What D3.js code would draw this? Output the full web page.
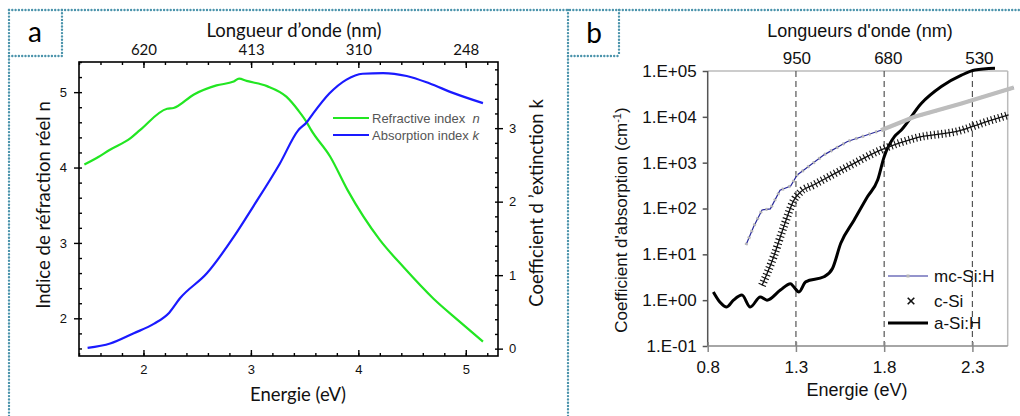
<!DOCTYPE html>
<meta charset="utf-8">
<style>
body { margin: 0; background: #fff; }
svg { display: block; }
.axis path, .axis line { stroke: #000; }
.a-tick text { font-family: "Liberation Sans", Arial, sans-serif; font-size: 13px; fill: #111; }
.b-tick text { font-family: "Liberation Sans", Arial, sans-serif; font-size: 17px; fill: #111; }
.title-a { font-family: Lato, "Open Sans", sans-serif; font-size: 18.5px; fill: #111; }
.title-b { font-family: "Liberation Sans", Arial, sans-serif; font-size: 17px; fill: #111; }
</style>
<body>
<script src="https://d3js.org/d3.v7.min.js"></script>
<script>
// ---- panel a : optical indices vs energy
var nEnergy = [1.45, 1.58, 1.68, 1.88, 1.97, 2.22, 2.28, 2.47, 2.68, 2.84, 2.89, 2.96, 3.15, 3.33, 3.44, 3.52, 3.56, 3.74, 3.90, 4.20, 4.42, 4.70, 4.94, 5.16];
var nValues = [4.04, 4.14, 4.23, 4.39, 4.50, 4.78, 4.79, 4.97, 5.09, 5.14, 5.18, 5.15, 5.08, 4.94, 4.76, 4.60, 4.50, 4.14, 3.70, 3.04, 2.68, 2.26, 1.96, 1.69];
var kEnergy = [1.48, 1.69, 1.91, 2.10, 2.24, 2.34, 2.59, 2.84, 3.02, 3.27, 3.44, 3.52, 3.58, 3.73, 3.89, 4.04, 4.23, 4.45, 4.66, 4.88, 5.16];
var kValues = [0.01, 0.07, 0.21, 0.34, 0.49, 0.685, 1.025, 1.52, 1.93, 2.52, 2.97, 3.08, 3.20, 3.47, 3.66, 3.74, 3.75, 3.71, 3.61, 3.48, 3.34];
var energyTicksA = [2, 3, 4, 5];
var wavelengthTicksA = [620, 413, 310, 248];
var nTicks = [2, 3, 4, 5];
var kTicks = [0, 1, 2, 3];

// ---- panel b : absorption coefficient (log)
var mcEnergy = [1.017, 1.06, 1.108, 1.155, 1.21, 1.27, 1.307, 1.345, 1.459, 1.592, 1.782, 1.972, 2.238, 2.535];
var mcValues = [16, 40, 93, 98, 250, 310, 540, 690, 1480, 2900, 5100, 10000, 19500, 43600];
var cEnergy = [1.108, 1.174, 1.231, 1.288, 1.326, 1.402, 1.592, 1.782, 1.972, 2.238, 2.352, 2.505];
var cValues = [2.1, 8.9, 40, 150, 230, 330, 810, 1900, 3400, 5100, 7200, 11000];
var aEnergy = [0.832, 0.87, 0.908, 0.946, 0.994, 1.041, 1.098, 1.136, 1.212, 1.269, 1.288, 1.317, 1.355, 1.459, 1.507, 1.554, 1.63, 1.706, 1.763, 1.80, 1.858, 1.896, 2.01, 2.124, 2.238, 2.314, 2.428];
var aValues = [1.51, 0.9, 0.71, 1.0, 1.29, 0.71, 1.17, 1.0, 1.66, 2.29, 1.95, 1.51, 2.51, 3.24, 4.9, 17.4, 56, 182, 417, 1350, 3700, 5100, 19500, 45700, 81000, 105000, 115000];
var energyTicksB = [0.8, 1.3, 1.8, 2.3];
var wavelengthTicksB = [950, 680, 530];
var alphaTicks = [0.1, 1, 10, 100, 1000, 10000, 100000];
var alphaTickLabels = ["1.E-01", "1.E+00", "1.E+01", "1.E+02", "1.E+03", "1.E+04", "1.E+05"];

var width = 1020, height = 416;
var svg = d3.select("body").append("svg")
    .attr("width", width)
    .attr("height", height);

// dotted frames
var frameColor = "#4a93ab";
function dotted(x1, y1, x2, y2) {
  svg.append("line")
      .attr("x1", x1).attr("y1", y1).attr("x2", x2).attr("y2", y2)
      .attr("stroke", frameColor)
      .attr("stroke-width", 2.4)
      .attr("stroke-linecap", "round")
      .attr("stroke-dasharray", "0,3.3");
}
dotted(9, 10, 9, 416);
dotted(9, 10, 1020, 10);
dotted(62, 10, 62, 56);
dotted(9, 56, 62, 56);
dotted(568, 10, 568, 416);
dotted(619, 10, 619, 56);
dotted(568, 56, 619, 56);

svg.append("text").attr("x", 35).attr("y", 42).attr("text-anchor", "middle")
    .style("font-family", "Lato, sans-serif").style("font-size", "28px").text("a");
svg.append("text").attr("x", 594).attr("y", 43).attr("text-anchor", "middle")
    .style("font-family", "Lato, sans-serif").style("font-size", "28px").text("b");

// ===================== panel a =====================
var ax0 = 79, ax1 = 498, ay0 = 62, ay1 = 356;

var xA = d3.scaleLinear().domain([1.4, 5.3]).range([ax0, ax1]);
var nA = d3.scaleLinear().domain([1.5, 5.4]).range([ay1, ay0]);
var kA = d3.scaleLinear().domain([-0.1, 3.9]).range([ay1, ay0]);

var gA = svg.append("g");

function minorTicks(scale, step) {
  var d = scale.domain(), out = [];
  for (var v = Math.ceil(d[0] / step) * step; v <= d[1] + 1e-9; v += step) out.push(+v.toFixed(3));
  return out;
}

// minor ticks (inward)
gA.append("g").attr("class", "axis").attr("transform", "translate(0," + ay1 + ")")
    .call(d3.axisBottom(xA).tickValues(minorTicks(xA, 0.2)).tickSize(-3).tickFormat(""));
gA.append("g").attr("class", "axis").attr("transform", "translate(0," + ay0 + ")")
    .call(d3.axisTop(xA).tickValues(minorTicks(xA, 0.2)).tickSize(-3).tickFormat(""));
gA.append("g").attr("class", "axis").attr("transform", "translate(" + ax0 + ",0)")
    .call(d3.axisLeft(nA).tickValues(minorTicks(nA, 0.2)).tickSize(-3).tickFormat(""));
gA.append("g").attr("class", "axis").attr("transform", "translate(" + ax1 + ",0)")
    .call(d3.axisRight(kA).tickValues(minorTicks(kA, 0.2)).tickSize(-3).tickFormat(""));

// major ticks
gA.append("g").attr("class", "axis a-tick").attr("transform", "translate(0," + ay1 + ")")
    .call(d3.axisBottom(xA).tickValues(energyTicksA).tickSize(-6).tickPadding(9).tickFormat(d3.format("d")));
var topA = gA.append("g").attr("class", "axis").attr("transform", "translate(0," + ay0 + ")")
    .call(d3.axisTop(xA).tickValues(wavelengthTicksA.map(function(l) { return 1240 / l; }))
      .tickSize(-6).tickPadding(7)
      .tickFormat(function(d, i) { return wavelengthTicksA[i]; }));
topA.selectAll("text").style("font-family", "Lato, sans-serif").style("font-size", "15px").style("fill", "#111");
gA.append("g").attr("class", "axis a-tick").attr("transform", "translate(" + ax0 + ",0)")
    .call(d3.axisLeft(nA).tickValues(nTicks).tickSize(5).tickPadding(7).tickFormat(d3.format("d")));
gA.append("g").attr("class", "axis a-tick").attr("transform", "translate(" + ax1 + ",0)")
    .call(d3.axisRight(kA).tickValues(kTicks).tickSize(5).tickPadding(6).tickFormat(d3.format("d")));
gA.selectAll(".axis line").attr("stroke-width", 1.4);
gA.selectAll(".axis .domain").attr("d", null);
gA.append("rect").attr("x", ax0).attr("y", ay0).attr("width", ax1 - ax0).attr("height", ay1 - ay0)
    .attr("fill", "none").attr("stroke", "#000").attr("stroke-width", 1.6);

var lineN = d3.line().curve(d3.curveMonotoneX)
    .x(function(d, i) { return xA(nEnergy[i]); })
    .y(function(d) { return nA(d); });
var lineK = d3.line().curve(d3.curveMonotoneX)
    .x(function(d, i) { return xA(kEnergy[i]); })
    .y(function(d) { return kA(d); });

gA.append("path").attr("d", lineN(nValues)).attr("fill", "none").attr("stroke", "#22e622").attr("stroke-width", 2.2);
gA.append("path").attr("d", lineK(kValues)).attr("fill", "none").attr("stroke", "#1a1aff").attr("stroke-width", 2.2);

// legend a
var legA = [
  {label: "Refractive index\u00a0\u00a0", sym: "n", color: "#22e622", y: 118},
  {label: "Absorption index ", sym: "k", color: "#1a1aff", y: 135}
];
legA.forEach(function(d) {
  gA.append("line").attr("x1", 333).attr("x2", 369).attr("y1", d.y).attr("y2", d.y)
      .attr("stroke", d.color).attr("stroke-width", 2.2);
  var t = gA.append("text").attr("x", 372).attr("y", d.y + 4.5)
      .style("font-family", "Liberation Sans, Arial, sans-serif").style("font-size", "13px").style("fill", "#555");
  t.append("tspan").text(d.label);
  t.append("tspan").style("font-style", "italic").text(d.sym);
});

svg.append("text").attr("class", "title-a").attr("x", 294).attr("y", 37).attr("text-anchor", "middle").text("Longueur d\u2019onde (nm)");
svg.append("text").attr("class", "title-a").attr("x", 298).attr("y", 401).attr("text-anchor", "middle").text("Energie (eV)");
svg.append("text").attr("class", "title-a").attr("transform", "translate(50,205) rotate(-90)")
    .attr("text-anchor", "middle").text("Indice de r\u00e9fraction r\u00e9el n");
svg.append("text").attr("class", "title-a").attr("transform", "translate(543,203) rotate(-90)")
    .attr("text-anchor", "middle").text("Coefficient d \u2019extinction k");

// ===================== panel b =====================
var bx0 = 707.7, bx1 = 1007.7, by0 = 71, by1 = 346;
var xB = d3.scaleLinear().domain([0.8, 2.5]).range([bx0, bx1]);
var yB = d3.scaleLog().domain([0.1, 100000]).range([by1, by0]);

var gB = svg.append("g");

gB.append("line").attr("x1", bx0).attr("x2", bx1).attr("y1", by0).attr("y2", by0).attr("stroke", "#bbb").attr("stroke-width", 1.5);
gB.append("line").attr("x1", bx1).attr("x2", bx1).attr("y1", by0).attr("y2", by1).attr("stroke", "#bbb").attr("stroke-width", 1.5);

// dashed reference lines
gB.selectAll(".ref").data(energyTicksB.slice(1)).enter().append("line")
    .attr("x1", function(d) { return xB(d); }).attr("x2", function(d) { return xB(d); })
    .attr("y1", by0).attr("y2", by1)
    .attr("stroke", "#555").attr("stroke-width", 1.2).attr("stroke-dasharray", "6,4");

var leftB = gB.append("g").attr("class", "b-tick").attr("transform", "translate(" + bx0 + ",0)")
    .call(d3.axisLeft(yB).tickValues(alphaTicks).tickSize(5).tickPadding(6)
      .tickFormat(function(d, i) { return alphaTickLabels[i]; }));
var bottomB = gB.append("g").attr("class", "b-tick").attr("transform", "translate(0," + by1 + ")")
    .call(d3.axisBottom(xB).tickValues(energyTicksB).tickSize(6).tickPadding(9)
      .tickFormat(d3.format(".1f")));
leftB.selectAll("path, line").attr("stroke", "#555").attr("stroke-width", 1.5);
bottomB.selectAll("path, line").attr("stroke", "#888").attr("stroke-width", 1.5);
bottomB.selectAll(".tick line").attr("y1", -4);
leftB.select(".domain").attr("d", "M0," + by1 + "V" + by0);
bottomB.select(".domain").attr("d", "M" + bx0 + ",0H" + bx1);

// top wavelength labels
gB.selectAll(".wl").data(wavelengthTicksB).enter().append("text")
    .attr("class", "title-b")
    .attr("x", function(d) { return xB(1240 / d); })
    .attr("y", 64).attr("text-anchor", "middle")
    .text(function(d) { return d; });

var lineB = function(xs) {
  return d3.line()
      .x(function(d, i) { return xB(xs[i]); })
      .y(function(d) { return yB(d); });
};

// a-Si:H
gB.append("path").attr("d", lineB(aEnergy).curve(d3.curveMonotoneX)(aValues))
    .attr("fill", "none").attr("stroke", "#000").attr("stroke-width", 3).attr("stroke-linejoin", "round");

// mc-Si:H
var mcPath = lineB(mcEnergy)(mcValues);
gB.append("path").attr("d", mcPath).attr("fill", "none").attr("stroke", "#2a2a9a").attr("stroke-width", 1.2);
gB.append("path").attr("d", mcPath).attr("fill", "none").attr("stroke", "#b8b8b8").attr("stroke-width", 3.2)
    .attr("stroke-dasharray", "2,5");
var mcHigh = mcEnergy.map(function(e, i) { return [e, mcValues[i]]; }).filter(function(p) { return p[0] >= 1.7; });
gB.append("path")
    .attr("d", d3.line().x(function(p) { return xB(p[0]); }).y(function(p) { return yB(p[1]); })(mcHigh))
    .attr("fill", "none").attr("stroke", "#bdbdbd").attr("stroke-width", 4.2);

// c-Si (dense cross markers rendered as a hatched line)
var cPath = lineB(cEnergy).curve(d3.curveMonotoneX)(cValues);
gB.append("path").attr("d", cPath).attr("fill", "none").attr("stroke", "#111").attr("stroke-width", 8)
    .attr("stroke-dasharray", "1.1,2.6");
gB.append("path").attr("d", cPath).attr("fill", "none").attr("stroke", "#111").attr("stroke-width", 1.3);

// legend b
var legB = gB.append("g");
legB.append("line").attr("x1", 888).attr("x2", 928).attr("y1", 276).attr("y2", 276).attr("stroke", "#2a2a9a").attr("stroke-width", 1.2);
legB.append("rect").attr("x", 906.5).attr("y", 274.5).attr("width", 3).attr("height", 3).attr("fill", "#b8b8b8");
legB.append("path").attr("d", d3.symbol(d3.symbolX, 30)()).attr("transform", "translate(911,301)")
    .attr("stroke", "#111").attr("stroke-width", 1.6).attr("fill", "none");
legB.append("line").attr("x1", 888).attr("x2", 928).attr("y1", 323).attr("y2", 323).attr("stroke", "#000").attr("stroke-width", 3);
[["mc-Si:H", 282], ["c-Si", 307], ["a-Si:H", 329]].forEach(function(d) {
  legB.append("text").attr("class", "title-b").attr("x", 934).attr("y", d[1]).text(d[0]);
});

svg.append("text").attr("class", "title-b").attr("x", 860).attr("y", 37).attr("text-anchor", "middle")
    .style("font-size", "18px").text("Longueurs d'onde (nm)");
svg.append("text").attr("class", "title-b").attr("x", 857).attr("y", 396).attr("text-anchor", "middle")
    .style("font-size", "18px").text("Energie (eV)");
var yt = svg.append("text").attr("class", "title-b").attr("transform", "translate(627,220) rotate(-90)")
    .attr("text-anchor", "middle");
yt.append("tspan").text("Coefficient d'absorption (cm");
yt.append("tspan").attr("baseline-shift", "super").style("font-size", "11px").text("-1");
yt.append("tspan").text(")");
</script>
</body>
